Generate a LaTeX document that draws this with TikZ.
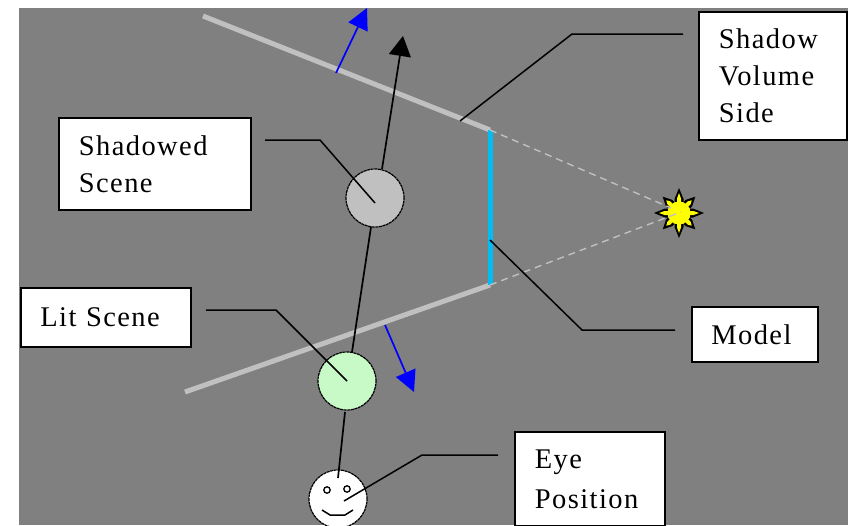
\documentclass[tikz,border=0pt]{standalone}
\usepackage{fontspec}
\setmainfont[LetterSpace=5]{Liberation Serif}
\usetikzlibrary{arrows.meta}
\definecolor{bggrey}{RGB}{128,128,128}
\definecolor{lightgrey}{RGB}{192,192,192}
\definecolor{litgreen}{RGB}{200,250,200}
\definecolor{modelcyan}{RGB}{0,190,245}
\definecolor{arrowblue}{RGB}{0,0,255}
\definecolor{sunyellow}{RGB}{255,255,0}
\tikzset{
 labelbox/.style={draw=black,line width=1.8pt,fill=white,inner sep=0pt,align=left,anchor=north west,
   font=\fontsize{28.5}{37}\selectfont},
 leader/.style={draw=black,line width=1.5pt},
 ball/.style={circle,draw=black,line width=1.2pt,dash pattern=on 3pt off 0.6pt,inner sep=0pt,minimum size=58pt},
 wall/.style={draw=lightgrey,line width=5pt},
 ray/.style={draw=lightgrey,line width=1.4pt,dash pattern=on 7pt off 5pt},
 axis/.style={draw=black,line width=1.7pt},
 normal/.style={draw=arrowblue,line width=1.7pt,-{Triangle[length=21pt,width=21pt]}},
 spike/.style={fill=black},
 spikecore/.style={fill=sunyellow},
}
\begin{document}
\begin{tikzpicture}[x=1pt,y=-1pt]
\useasboundingbox (0,0) rectangle (848,525);
\clip (0,0) rectangle (848,525);
\fill[white] (0,0) rectangle (848,525);
\fill[bggrey] (19,8) rectangle (848,525);

% named points
\coordinate (wallA) at (203,16);
\coordinate (wallB) at (490,130);
\coordinate (wallC) at (490,285);
\coordinate (wallD) at (185,392);
\coordinate (n1s) at (336,73);
\coordinate (n1e) at (367,8);
\coordinate (n2s) at (385,325);
\coordinate (n2e) at (414,392);
\coordinate (axE) at (403,36);

% walls and model
\draw[wall] (wallA) -- (wallB);
\draw[wall] (wallD) -- (wallC);
\draw[draw=modelcyan,line width=5pt] (wallB) -- (wallC);
\draw[normal] (n1s) -- (n1e);
\draw[normal] (n2s) -- (n2e);

% sun
\begin{scope}[shift={(679,213)}]
\foreach \a/\r in {0/25,90/25,180/25,270/25,45/23,135/23,225/23,315/23}{
  \begin{scope}[rotate=\a]
   \fill[spike] (11,-4.5) -- (14,-4.5) -- (\r,0) -- (14,4.5) -- (11,4.5) -- cycle;
   \fill[spikecore] (11,-2) -- (14.5,-2) -- (\r-5,0) -- (14.5,2) -- (11,2) -- cycle;
  \end{scope}
}
\end{scope}
\node[circle,inner sep=0pt,minimum size=23pt,fill=sunyellow,draw=none] (sun) at (679,213) {};
\coordinate (rayA) at (671,208);
\coordinate (rayB) at (681,212);
\draw[ray] (wallB) -- (rayA);
\draw[ray] (wallC) -- (rayB);

% scene points
\node[ball,fill=lightgrey] (shad) at (375,198) {};
\node[ball,fill=litgreen] (lit) at (347,381) {};
\node[ball,fill=white] (eye) at (338,499) {};
\coordinate (eyeTip) at (338,478);
\draw[axis] (eyeTip) -- (345,412);
\draw[axis] (352,352) -- (371,227);
\draw[axis,-{Triangle[length=20pt,width=22pt]}] (382,169) -- (axE);

% face
\draw[line width=1.3pt] (327,490) circle (3.2pt) (347,489) circle (3.2pt);
\draw[line width=1.5pt] (322,510) -- (330,515) -- (345,515) -- (353,510);

% labels
\node[labelbox,minimum width=192pt,minimum height=92pt,text width=152pt] (shadLabel) at (58,117) {Shadowed\\Scene};
\node[labelbox,minimum width=148pt,minimum height=128pt,text width=108pt] (sideLabel) at (698,11) {Shadow\\Volume\\Side};
\node[labelbox,minimum width=170pt,minimum height=59pt,text width=131pt] (litLabel) at (20,287) {Lit Scene};
\node[labelbox,minimum width=126pt,minimum height=55pt,text width=87pt] (modelLabel) at (691,306) {Model};
\node[labelbox,minimum width=150pt,minimum height=94pt,text width=110pt,font=\fontsize{28.5}{40}\selectfont] (eyeLabel) at (514,431) {Eye\\Position};

% leaders
\coordinate (a1) at (265,140); \coordinate (a2) at (320,140); \coordinate (a3) at (375,203);
\draw[leader] (a1) -- (a2) -- (a3);
\coordinate (b1) at (206,310); \coordinate (b2) at (276,310); \coordinate (b3) at (347,381);
\draw[leader] (b1) -- (b2) -- (b3);
\coordinate (c1) at (683,34); \coordinate (c2) at (572,34); \coordinate (c3) at (460,121);
\draw[leader] (c1) -- (c2) -- (c3);
\coordinate (d1) at (675,330); \coordinate (d2) at (582,330); \coordinate (d3) at (490,240);
\draw[leader] (d1) -- (d2) -- (d3);
\coordinate (e1) at (498,455); \coordinate (e2) at (422,455); \coordinate (e3) at (344,501);
\draw[leader] (e1) -- (e2) -- (e3);
\end{tikzpicture}
\end{document}
